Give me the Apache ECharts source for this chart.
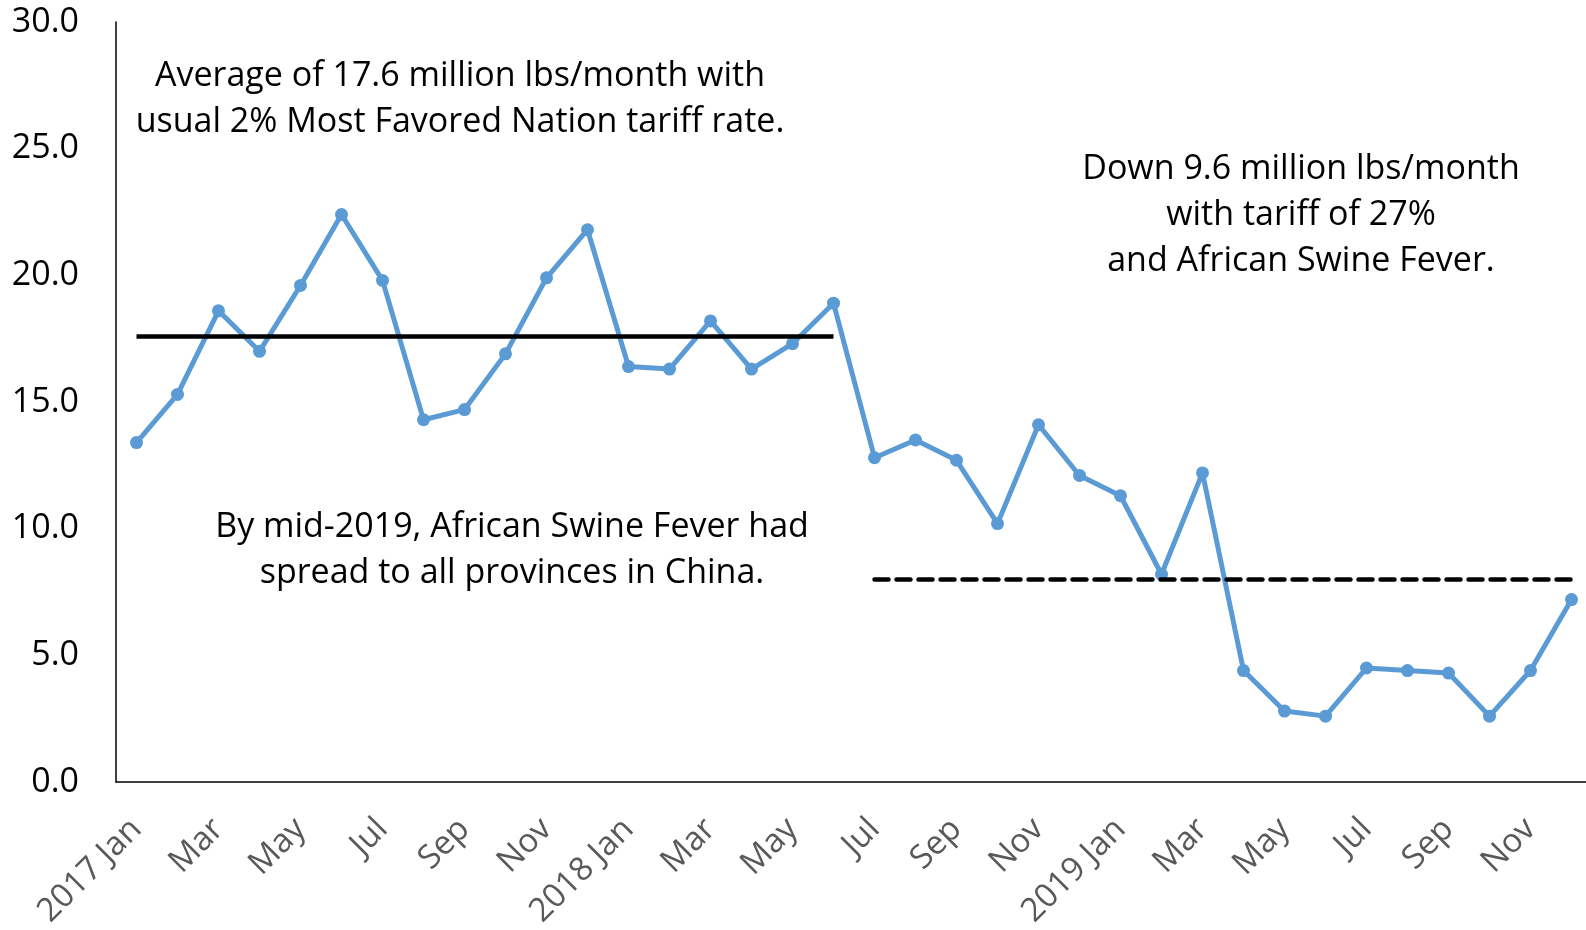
<!DOCTYPE html>
<html>
<head>
<meta charset="utf-8">
<script src="https://cdn.jsdelivr.net/npm/echarts@6/dist/echarts.min.js"></script>
<style>
  html, body { margin: 0; padding: 0; background: #fff; }
  #main { width: 1586px; height: 930px; }
</style>
</head>
<body>
<div id="main"></div>
<script>
// months, Jan 2017 .. Dec 2019
var months = [
  '2017 Jan', 'Feb', 'Mar', 'Apr', 'May', 'Jun', 'Jul', 'Aug', 'Sep', 'Oct', 'Nov', 'Dec',
  '2018 Jan', 'Feb', 'Mar', 'Apr', 'May', 'Jun', 'Jul', 'Aug', 'Sep', 'Oct', 'Nov', 'Dec',
  '2019 Jan', 'Feb', 'Mar', 'Apr', 'May', 'Jun', 'Jul', 'Aug', 'Sep', 'Oct', 'Nov', 'Dec'
];
// million lbs / month
var values = [
  13.4, 15.3, 18.6, 17.0, 19.6, 22.4, 19.8, 14.3, 14.7, 16.9, 19.9, 21.8,
  16.4, 16.3, 18.2, 16.3, 17.3, 18.9, 12.8, 13.5, 12.7, 10.2, 14.1, 12.1,
  11.3, 8.2, 12.2, 4.4, 2.8, 2.6, 4.5, 4.4, 4.3, 2.6, 4.4, 7.2
];
// average lines: [startIndex, endIndex, value]
var avgBefore = [0, 17, 17.6];
var avgAfter = [18, 35, 8.0];

var yTicks = [0, 30, 5];

var txtFont = '"Open Sans", sans-serif';

var myChart = echarts.init(document.getElementById('main'));
var option = {
  animation: false,
  textStyle: { fontFamily: txtFont },
  grid: { left: 116, right: -6, top: 22, bottom: 148, containLabel: false, outerBoundsMode: 'none' },
  xAxis: {
    type: 'category',
    data: months,
    boundaryGap: true,
    axisLine: { lineStyle: { color: '#000', width: 1.5 } },
    axisTick: { show: false },
    axisLabel: {
      interval: 1,
      rotate: 45,
      margin: 42,
      fontSize: 33,
      color: '#595959',
      fontFamily: txtFont
    },
    splitLine: { show: false }
  },
  yAxis: {
    type: 'value',
    min: yTicks[0],
    max: yTicks[1],
    interval: yTicks[2],
    axisLine: { show: true, lineStyle: { color: '#000', width: 1.5 } },
    axisTick: { show: false },
    splitLine: { show: false },
    axisLabel: {
      margin: 37,
      fontSize: 34,
      color: '#000',
      fontFamily: txtFont,
      formatter: function (v) { return v.toFixed(1); }
    }
  },
  series: [{
    type: 'line',
    data: values,
    symbol: 'circle',
    symbolSize: 13,
    lineStyle: { color: '#5B9BD5', width: 5 },
    itemStyle: { color: '#5B9BD5' },
    markLine: {
      silent: true,
      symbol: 'none',
      label: { show: false },
      data: [
        [
          { coord: [avgBefore[0], avgBefore[2]], lineStyle: { color: '#000', width: 4.5, type: 'solid' } },
          { coord: [avgBefore[1], avgBefore[2]] }
        ],
        [
          { coord: [avgAfter[0], avgAfter[2]], lineStyle: { color: '#000', width: 4.5, type: [14, 8], cap: 'round' } },
          { coord: [avgAfter[1], avgAfter[2]] }
        ]
      ]
    }
  }],
  graphic: [
    {
      type: 'text', x: 460, y: 99,
      style: {
        text: 'Average of 17.6 million lbs/month with\nusual 2% Most Favored Nation tariff rate.',
        font: '34px ' + txtFont, fill: '#000', align: 'center', verticalAlign: 'middle', lineHeight: 46
      }
    },
    {
      type: 'text', x: 1301, y: 215,
      style: {
        text: 'Down 9.6 million lbs/month\nwith tariff of 27%\nand African Swine Fever.',
        font: '34px ' + txtFont, fill: '#000', align: 'center', verticalAlign: 'middle', lineHeight: 46
      }
    },
    {
      type: 'text', x: 512, y: 550,
      style: {
        text: 'By mid-2019, African Swine Fever had\nspread to all provinces in China.',
        font: '34px ' + txtFont, fill: '#000', align: 'center', verticalAlign: 'middle', lineHeight: 46
      }
    }
  ]
};
myChart.setOption(option);
</script>
</body>
</html>
